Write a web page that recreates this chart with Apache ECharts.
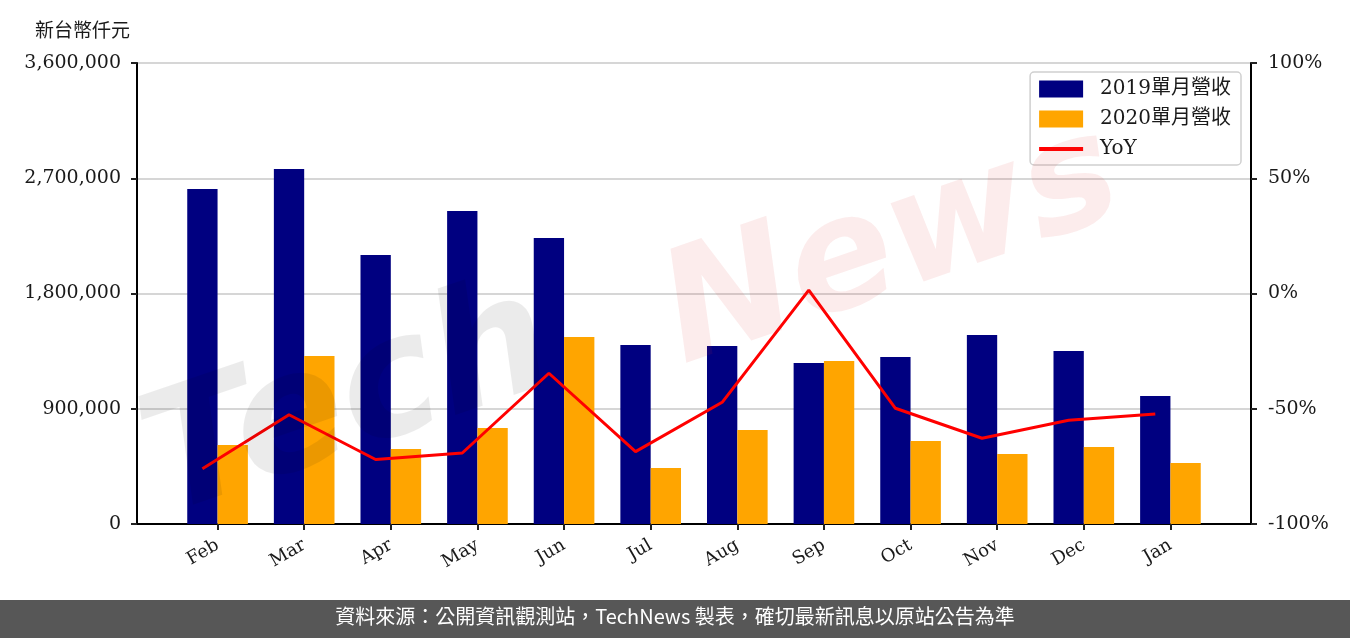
<!DOCTYPE html>
<html>
<head>
<meta charset="utf-8">
<script src="https://cdn.jsdelivr.net/npm/echarts@6/dist/echarts.min.js"></script>
<style>
html,body{margin:0;padding:0;background:#fff;}
#chart{width:1350px;height:638px;}
</style>
</head>
<body>
<div id="chart"></div>
<script>
const categories = ['Feb','Mar','Apr','May','Jun','Jul','Aug','Sep','Oct','Nov','Dec','Jan'];
const rev2019 = [2616000, 2772000, 2101000, 2444000, 2233000, 1398000, 1390000, 1257000, 1304000, 1476000, 1351000, 1000000];
const rev2020 = [617000, 1312000, 586000, 750000, 1460000, 437000, 734000, 1273000, 648000, 547000, 601000, 476000];
const yoy = [-76, -52.6, -72, -69.2, -34.6, -68.6, -47.2, 1.5, -49.8, -62.8, -55, -52.3];
const leftTicks = [0, 900000, 1800000, 2700000, 3600000];
const rightTicks = [-100, -50, 0, 50, 100];

const serif = "'DejaVu Serif', 'Noto Sans CJK TC', serif";
const GRID = {left:137, right:99, top:63, bottom:114};
const XMIN = -0.93, XMAX = 11.93;
const BAR_UNITS = 0.35;
const gridW = 1350 - GRID.left - GRID.right;
const barPx = BAR_UNITS * gridW / (XMAX - XMIN);

const chart = echarts.init(document.getElementById('chart'), null, {renderer:'canvas'});
chart.setOption({
  animation:false,
  backgroundColor:'#fff',
  title:{text:'新台幣仟元', left:30, top:15,
    textStyle:{fontFamily:"'Noto Sans CJK TC', sans-serif", fontSize:19, fontWeight:'normal', color:'#1a1a1a'}},
  grid:{left:GRID.left, right:GRID.right, top:GRID.top, bottom:GRID.bottom, show:true,
    borderColor:'#000', borderWidth:2, backgroundColor:'transparent'},
  legend:{
    orient:'vertical', right:109, top:72,
    backgroundColor:'rgba(255,255,255,0.85)', borderColor:'#d0d0d0', borderWidth:1.5, borderRadius:4,
    padding:[7,10,6,7], itemGap:10, itemWidth:44, itemHeight:17,
    textStyle:{fontFamily:serif, fontSize:20, color:'#1a1a1a', lineHeight:17, padding:[0,0,0,12]},
    data:[{name:'2019單月營收', icon:'rect'},{name:'2020單月營收', icon:'rect'},
      {name:'YoY', itemStyle:{opacity:0}, lineStyle:{width:4, color:'#ff0000'}}]
  },
  xAxis:{
    type:'value', min:XMIN, max:XMAX,
    axisLine:{show:true, onZero:false, lineStyle:{color:'#000', width:2}},
    splitLine:{show:false},
    axisTick:{show:true, length:6, lineStyle:{color:'#222', width:2}, customValues:categories.map((c,i)=>i)},
    axisLabel:{customValues:categories.map((c,i)=>i), rotate:30, margin:20,
      fontFamily:serif, fontSize:18, color:'#1a1a1a',
      formatter:(v)=>categories[Math.round(v)] || ''}
  },
  yAxis:[
    {type:'value', min:0, max:3600000, interval:900000,
      axisLine:{show:true, onZero:false, lineStyle:{color:'#000', width:2}},
      axisTick:{show:true, length:6, lineStyle:{color:'#222', width:2}},
      splitLine:{show:true, lineStyle:{color:'#d6d6d6', width:2}},
      axisLabel:{margin:16, fontFamily:serif, fontSize:19, color:'#1a1a1a',
        formatter:(v)=>v.toLocaleString('en-US')}},
    {type:'value', min:-100, max:100, interval:50, position:'right',
      axisLine:{show:true, onZero:false, lineStyle:{color:'#000', width:2}},
      axisTick:{show:true, length:6, lineStyle:{color:'#222', width:2}},
      splitLine:{show:false},
      axisLabel:{margin:17, fontFamily:serif, fontSize:19, color:'#1a1a1a',
        formatter:(v)=>v + '%'}}
  ],
  series:[
    {name:'2019單月營收', type:'bar', barWidth:barPx, barGap:'0%', yAxisIndex:0,
      itemStyle:{color:'#000080'},
      data:rev2019.map((v,i)=>[i, v])},
    {name:'2020單月營收', type:'bar', barWidth:barPx, barGap:'0%', yAxisIndex:0,
      itemStyle:{color:'#FFA500'},
      data:rev2020.map((v,i)=>[i, v])},
    {name:'YoY', type:'line', yAxisIndex:1, symbol:'none', z:5,
      lineStyle:{color:'#ff0000', width:3}, itemStyle:{color:'#ff0000'},
      data:yoy.map((v,i)=>[i - BAR_UNITS/2, v])}
  ],
  graphic:[
    {type:'text', left:125, top:260, rotation:0.33, z:100, silent:true,
      style:{text:'Tech', font:"italic bold 165px 'DejaVu Sans'", fill:'rgba(0,0,0,0.08)'}},
    {type:'text', left:645, top:100, rotation:0.33, z:100, silent:true,
      style:{text:'News', font:"italic bold 155px 'DejaVu Sans'", fill:'rgba(220,40,40,0.09)'}},
    {type:'rect', left:0, top:600, z:100, shape:{width:1350, height:38}, style:{fill:'#575757'}},
    {type:'text', left:'center', top:606, z:101,
      style:{text:'資料來源：公開資訊觀測站，TechNews 製表，確切最新訊息以原站公告為準',
        font:"20px 'Noto Sans CJK TC'", fill:'#fff'}}
  ]
});
</script>
</body>
</html>
